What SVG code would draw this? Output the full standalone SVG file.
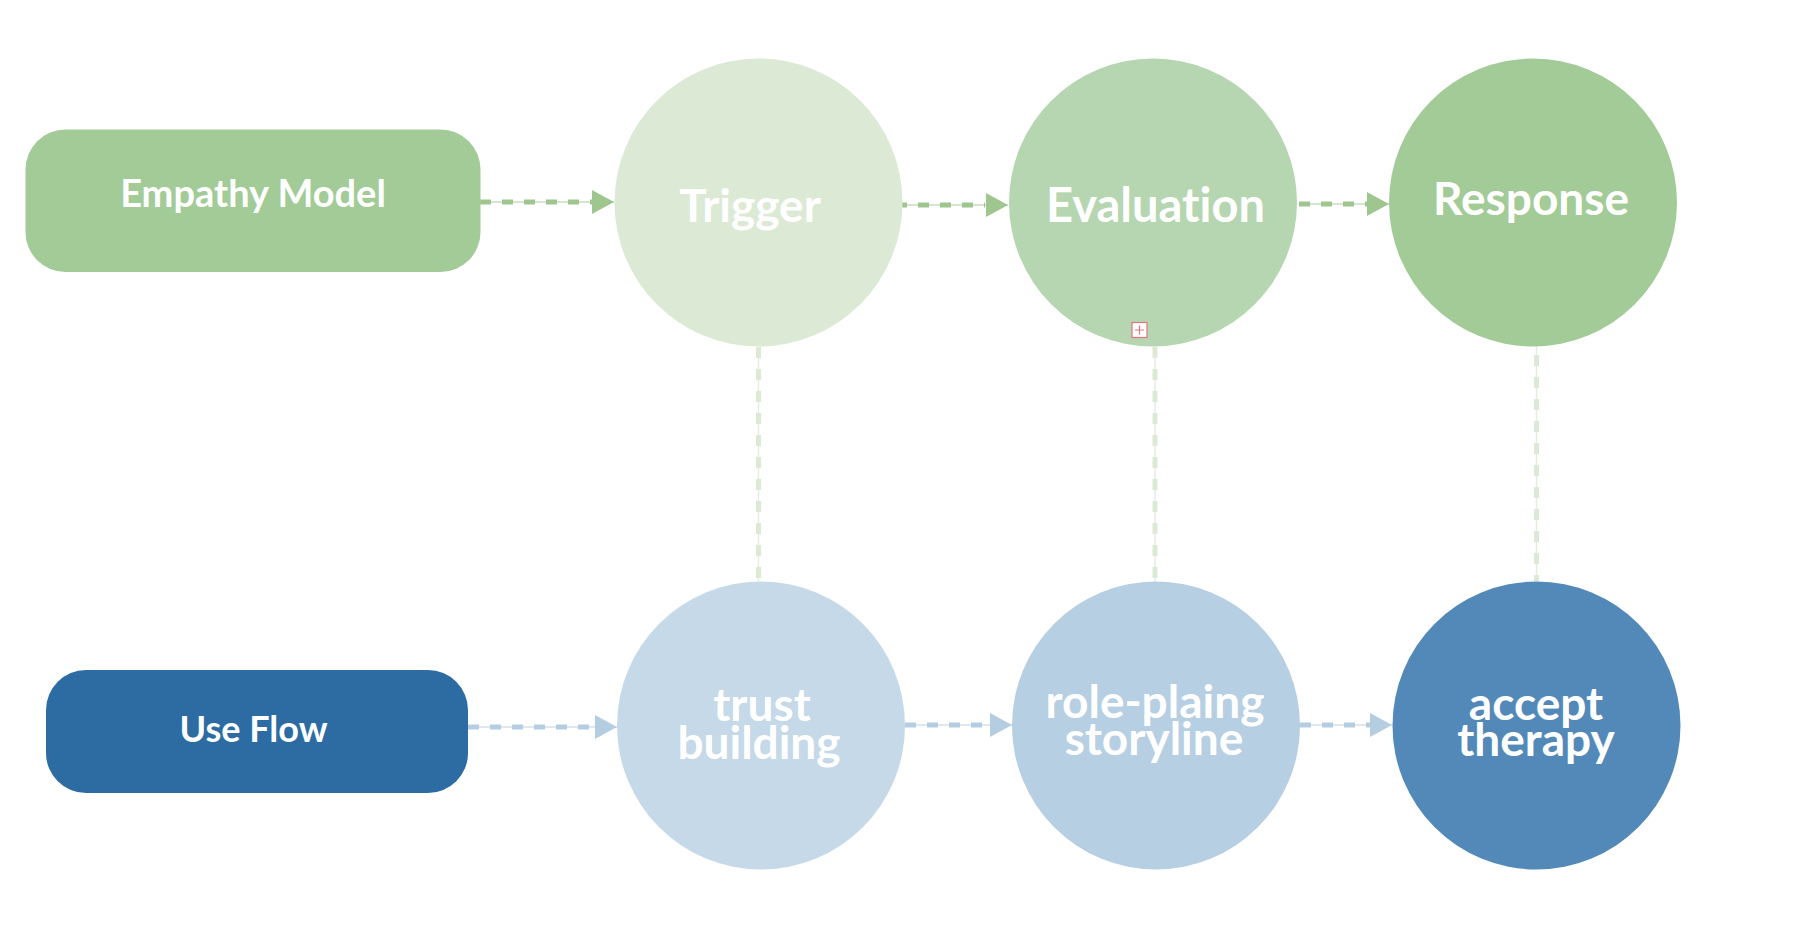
<svg xmlns="http://www.w3.org/2000/svg" width="1815" height="943" viewBox="0 0 1815 943">
<defs>
<style>
.lbl{font-family:Lato,"Liberation Sans",sans-serif;font-weight:700;fill:#ffffff;text-anchor:middle;font-variant-ligatures:none}
.thinG{stroke:#c9ddc0;stroke-width:1.5;fill:none}
.thickG{stroke:#9fc68f;stroke-width:5;stroke-dasharray:11 11;fill:none}
.thinB{stroke:#d2e1ec;stroke-width:1.5;fill:none}
.thickB{stroke:#b5cde1;stroke-width:5;stroke-dasharray:11 11;fill:none}
.thinV{stroke:#e3eedf;stroke-width:1.5;fill:none}
.thickV{stroke:#dce9d5;stroke-width:5;stroke-dasharray:11 11;fill:none}
</style>
<marker id="arrG" markerUnits="userSpaceOnUse" markerWidth="23" markerHeight="26" refX="22" refY="12" orient="auto"><path d="M0,0 L22,12 L0,24 Z" fill="#9fc68f"/></marker>
<marker id="arrB" markerUnits="userSpaceOnUse" markerWidth="23" markerHeight="26" refX="22" refY="12" orient="auto"><path d="M0,0 L22,12 L0,24 Z" fill="#b5cde1"/></marker>
</defs>
<rect width="1815" height="943" fill="#ffffff"/>

<g id="connectors">
<line class="thinV" x1="758.5" y1="347" x2="758.5" y2="581"/>
<line class="thickV" x1="758.5" y1="347" x2="758.5" y2="581"/>
<line class="thinV" x1="1155" y1="347" x2="1155" y2="581"/>
<line class="thickV" x1="1155" y1="347" x2="1155" y2="581"/>
<line class="thinV" x1="1536.5" y1="333" x2="1536.5" y2="581"/>
<line class="thickV" x1="1536.5" y1="333" x2="1536.5" y2="581"/>

<line class="thinG" x1="480" y1="202" x2="614" y2="202" marker-end="url(#arrG)"/>
<line class="thickG" x1="480" y1="202" x2="596" y2="202"/>
<line class="thinG" x1="896" y1="205" x2="1008" y2="205" marker-end="url(#arrG)"/>
<line class="thickG" x1="896" y1="205" x2="985" y2="205"/>
<line class="thinG" x1="1299" y1="204" x2="1389" y2="204" marker-end="url(#arrG)"/>
<line class="thickG" x1="1299" y1="204" x2="1370" y2="204"/>

<line class="thinB" x1="468" y1="727" x2="617" y2="727" marker-end="url(#arrB)"/>
<line class="thickB" x1="468" y1="727" x2="598" y2="727"/>
<line class="thinB" x1="905" y1="725" x2="1012" y2="725" marker-end="url(#arrB)"/>
<line class="thickB" x1="905" y1="725" x2="992" y2="725"/>
<line class="thinB" x1="1300" y1="725" x2="1392" y2="725" marker-end="url(#arrB)"/>
<line class="thickB" x1="1300" y1="725" x2="1372" y2="725"/>
</g>

<g id="empathy-model">
<rect x="25.5" y="129.5" width="455" height="142.5" rx="40" ry="40" fill="#a2cb98"/>
<text class="lbl" x="253" y="207" font-size="38">Empathy Model</text>
</g>
<g id="trigger">
<circle cx="758.5" cy="202.5" r="144" fill="#dce9d5"/>
<text class="lbl" x="750" y="222" font-size="46">Trigger</text>
</g>
<g id="evaluation">
<circle cx="1153" cy="202.5" r="144" fill="#b5d6b0"/>
<text class="lbl" x="1155.5" y="222" font-size="47">Evaluation</text>
<rect x="1132" y="322.5" width="15" height="15" fill="#ffffff" stroke="#e8737a" stroke-width="1.2"/>
<path d="M1135,330 H1144 M1139.5,325.5 V334.5" stroke="#e8737a" stroke-width="1.2"/>
</g>
<g id="response">
<circle cx="1533" cy="202.5" r="144" fill="#a2cb98"/>
<text class="lbl" x="1531" y="215" font-size="46">Response</text>
</g>

<g id="use-flow">
<rect x="46" y="670" width="422" height="123" rx="40" ry="40" fill="#2c6ca3"/>
<text class="lbl" x="253.5" y="742" font-size="36">Use Flow</text>
</g>
<g id="trust-building">
<circle cx="761" cy="725.5" r="144" fill="#c5d9e8"/>
<text class="lbl" font-size="46"><tspan x="762" y="721">trust</tspan><tspan x="759" y="759">building</tspan></text>
</g>
<g id="role-plaing-storyline">
<circle cx="1156" cy="725.5" r="144" fill="#b7cfe3"/>
<text class="lbl" font-size="46"><tspan x="1155" y="718">role-plaing</tspan><tspan x="1154" y="755">storyline</tspan></text>
</g>
<g id="accept-therapy">
<circle cx="1536.5" cy="725.5" r="144" fill="#5289b8"/>
<text class="lbl" font-size="46"><tspan x="1536" y="720">accept</tspan><tspan x="1536" y="756">therapy</tspan></text>
</g>
</svg>
